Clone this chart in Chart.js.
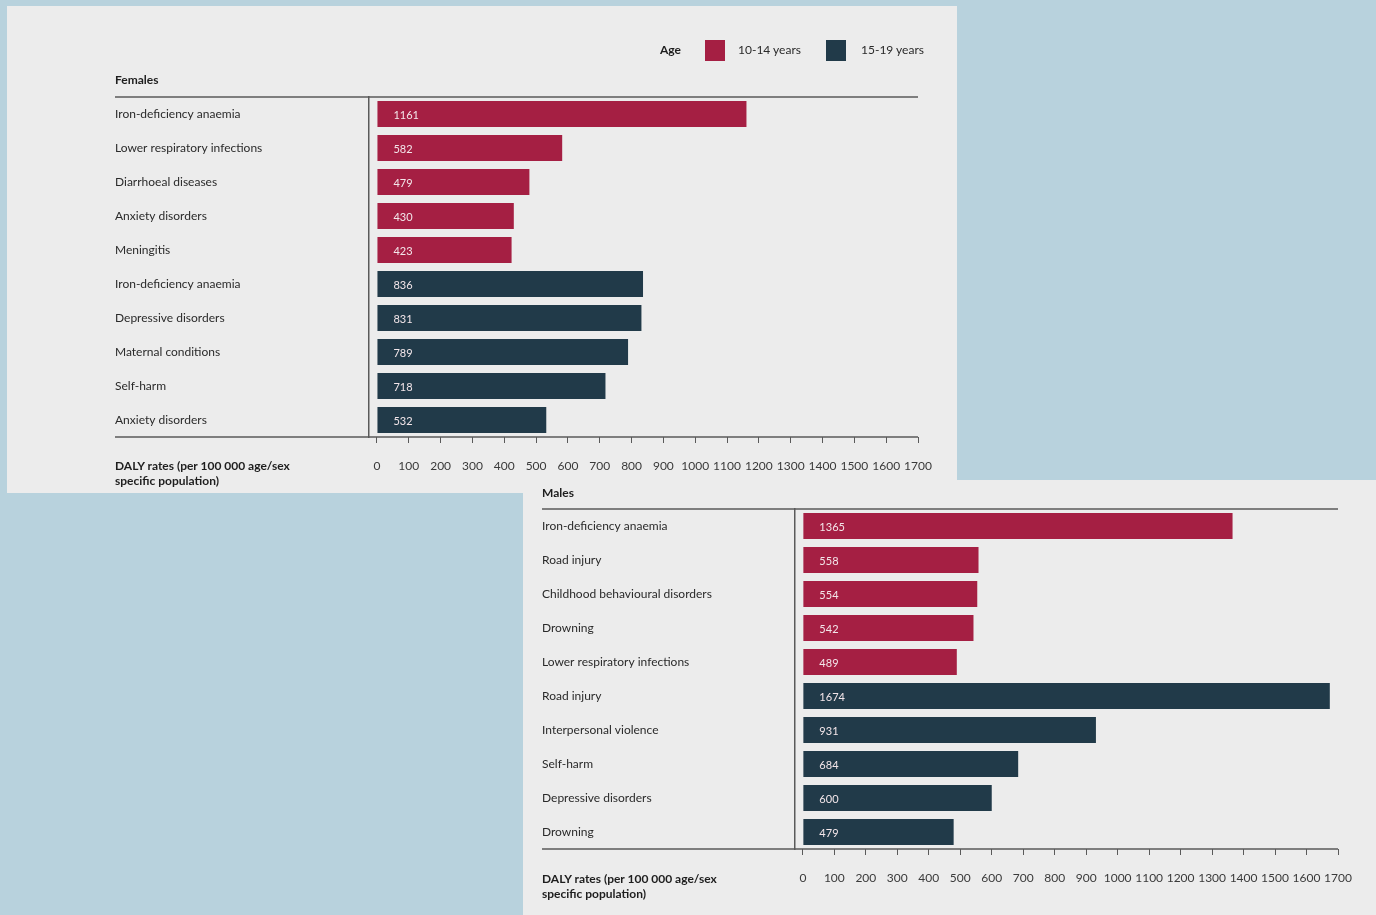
<!DOCTYPE html>
<html>
<head>
<meta charset="utf-8">
<script src="https://cdn.jsdelivr.net/npm/chart.js@4/dist/chart.umd.min.js"></script>
<style>
  html, body { margin: 0; padding: 0; }
  body { width: 1376px; height: 915px; background: #b8d2dd; position: relative; overflow: hidden; font-family: Lato, "Open Sans", sans-serif; }
  .panel { position: absolute; background: #ececec; }
  #panelF { left: 7px; top: 6px; width: 950px; height: 487px; z-index: 1; }
  #panelM { left: 523px; top: 480px; width: 853px; height: 435px; z-index: 2; }
  .panel canvas { position: absolute; left: 0; top: 0; }
  .txt { position: absolute; color: #2a2a2a; font-size: 12px; white-space: nowrap; line-height: 15px; }
  .bold { font-weight: 700; color: #1e1e1e; }
  .swatch { position: absolute; width: 20px; height: 21px; }
</style>
</head>
<body>
<div id="panelF" class="panel">
  <canvas id="chartF" width="950" height="487"></canvas>
  <div class="txt bold" style="left:653px; top:36px;">Age</div>
  <div class="swatch" style="left:698px; top:34px; background:#a51f43;"></div>
  <div class="txt" style="left:731px; top:36px;">10-14 years</div>
  <div class="swatch" style="left:819px; top:34px; background:#213a49;"></div>
  <div class="txt" style="left:854px; top:36px;">15-19 years</div>
  <div class="txt bold" style="left:108px; top:66px;">Females</div>
  <div class="txt bold" style="left:108px; top:452px;">DALY rates (per 100 000 age/sex<br>specific population)</div>
</div>
<div id="panelM" class="panel">
  <canvas id="chartM" width="853" height="435"></canvas>
  <div class="txt bold" style="left:19px; top:5px;">Males</div>
  <div class="txt bold" style="left:19px; top:391px;">DALY rates (per 100 000 age/sex<br>specific population)</div>
</div>
<script>
// Leading causes of DALYs, 10-14 and 15-19 year olds
const femaleCauses10to14 = ['Iron-deficiency anaemia', 'Lower respiratory infections', 'Diarrhoeal diseases', 'Anxiety disorders', 'Meningitis'];
const femaleRates10to14 = [1161, 582, 479, 430, 423];
const femaleCauses15to19 = ['Iron-deficiency anaemia', 'Depressive disorders', 'Maternal conditions', 'Self-harm', 'Anxiety disorders'];
const femaleRates15to19 = [836, 831, 789, 718, 532];

const maleCauses10to14 = ['Iron-deficiency anaemia', 'Road injury', 'Childhood behavioural disorders', 'Drowning', 'Lower respiratory infections'];
const maleRates10to14 = [1365, 558, 554, 542, 489];
const maleCauses15to19 = ['Road injury', 'Interpersonal violence', 'Self-harm', 'Depressive disorders', 'Drowning'];
const maleRates15to19 = [1674, 931, 684, 600, 479];

const ageGroups = ['10-14 years', '15-19 years'];
const xTickValues = [0, 100, 200, 300, 400, 500, 600, 700, 800, 900, 1000, 1100, 1200, 1300, 1400, 1500, 1600, 1700];

const RED = '#a51f43';
const NAVY = '#213a49';
const LINE = '#5a5a5a';
const FONT = 'Lato, "Open Sans", sans-serif';

// Frame lines: top and bottom rules running under the category labels too
const frameLines = {
  id: 'frameLines',
  afterDraw(chart) {
    const { ctx, chartArea } = chart;
    const yScale = chart.scales.y;
    ctx.save();
    ctx.strokeStyle = LINE;
    ctx.lineWidth = 1.5;
    ctx.beginPath();
    ctx.moveTo(yScale.left, chartArea.top);
    ctx.lineTo(chartArea.right, chartArea.top);
    ctx.moveTo(yScale.left, chartArea.bottom);
    ctx.lineTo(chartArea.right, chartArea.bottom);
    ctx.stroke();
    ctx.restore();
  }
};

// Value written inside the start of each bar
const barValues = {
  id: 'barValues',
  afterDatasetsDraw(chart) {
    const { ctx } = chart;
    ctx.save();
    ctx.font = '11px ' + FONT;
    ctx.fillStyle = '#f3e6ea';
    ctx.textAlign = 'left';
    ctx.textBaseline = 'middle';
    chart.data.datasets.forEach((ds, i) => {
      chart.getDatasetMeta(i).data.forEach((bar, j) => {
        const v = ds.data[j];
        if (v === null || v === undefined) return;
        ctx.fillText(String(v), bar.base + 16, bar.y + 1);
      });
    });
    ctx.restore();
  }
};

function buildChart(canvasId, young, youngRates, older, olderRates, pad, yWidth) {
  const empty = young.map(() => null);
  const labels = young.concat(older);
  return new Chart(document.getElementById(canvasId), {
    type: 'bar',
    data: {
      labels: labels,
      datasets: [
        { label: ageGroups[0], data: youngRates.concat(empty), backgroundColor: RED },
        { label: ageGroups[1], data: empty.concat(olderRates), backgroundColor: NAVY }
      ]
    },
    options: {
      indexAxis: 'y',
      responsive: false,
      animation: false,
      grouped: false,
      barPercentage: 0.76,
      categoryPercentage: 1,
      layout: { padding: pad },
      plugins: { legend: { display: false }, title: { display: false }, tooltip: { enabled: false } },
      scales: {
        x: {
          type: 'linear',
          min: -25,
          max: 1700,
          afterBuildTicks(scale) { scale.ticks = xTickValues.map(v => ({ value: v })); },
          afterFit(scale) { scale.height = 40; },
          grid: { display: true, drawOnChartArea: false, drawTicks: true, tickLength: 6, color: LINE, lineWidth: 1 },
          border: { display: false },
          ticks: {
            padding: 16, color: '#3a3a3a', font: { family: FONT, size: 12 }, maxRotation: 0, autoSkip: false,
            callback: (v) => String(v)
          }
        },
        y: {
          type: 'category',
          afterFit(scale) { scale.width = yWidth; },
          grid: { display: false },
          border: { display: true, color: LINE, width: 1.5 },
          ticks: { crossAlign: 'far', padding: 8, color: '#2a2a2a', font: { family: FONT, size: 12 } }
        }
      }
    },
    plugins: [frameLines, barValues]
  });
}

buildChart('chartF', femaleCauses10to14, femaleRates10to14, femaleCauses15to19, femaleRates15to19,
  { top: 91, left: 108, right: 39, bottom: 16 }, 254);
buildChart('chartM', maleCauses10to14, maleRates10to14, maleCauses15to19, maleRates15to19,
  { top: 29, left: 19, right: 38, bottom: 26 }, 253);
</script>
</body>
</html>
